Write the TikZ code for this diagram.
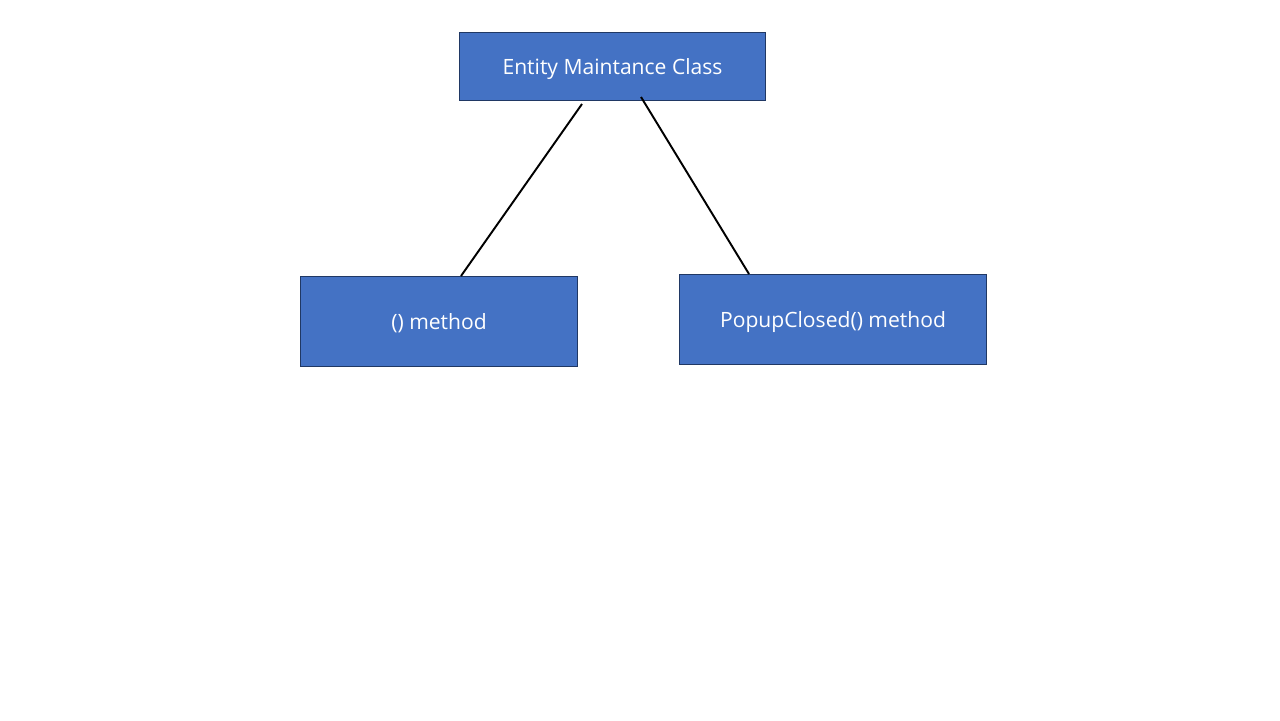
\documentclass[tikz,border=0pt]{standalone}
\usepackage{fontspec}
\setmainfont{Open Sans}
\definecolor{boxfill}{HTML}{4472C4}
\definecolor{boxline}{HTML}{203864}
\begin{document}
\begin{tikzpicture}[x=0.02cm,y=-0.02cm,
  box/.style={draw=boxline,line width=0.6pt,fill=boxfill,text=white,
    font=\fontsize{12pt}{14pt}\selectfont,inner sep=0pt,anchor=north west,
    text height=1.1em,text depth=0.22em},
  link/.style={draw=black,line width=1.1pt}]
\useasboundingbox (0,0) rectangle (1280,720);
\node[box,minimum width=306*0.02cm,minimum height=68*0.02cm] (top) at (459,32) {Entity Maintance Class};
\node[box,minimum width=277*0.02cm,minimum height=90*0.02cm] (left) at (300,276) {() method};
\node[box,minimum width=307*0.02cm,minimum height=90*0.02cm] (right) at (679,274) {PopupClosed() method};
\coordinate (a1) at (582,104);
\coordinate (a2) at (461,276);
\coordinate (b1) at (641,97);
\coordinate (b2) at (749,274);
\draw[link] (a1) -- (a2);
\draw[link] (b1) -- (b2);
\end{tikzpicture}
\end{document}
